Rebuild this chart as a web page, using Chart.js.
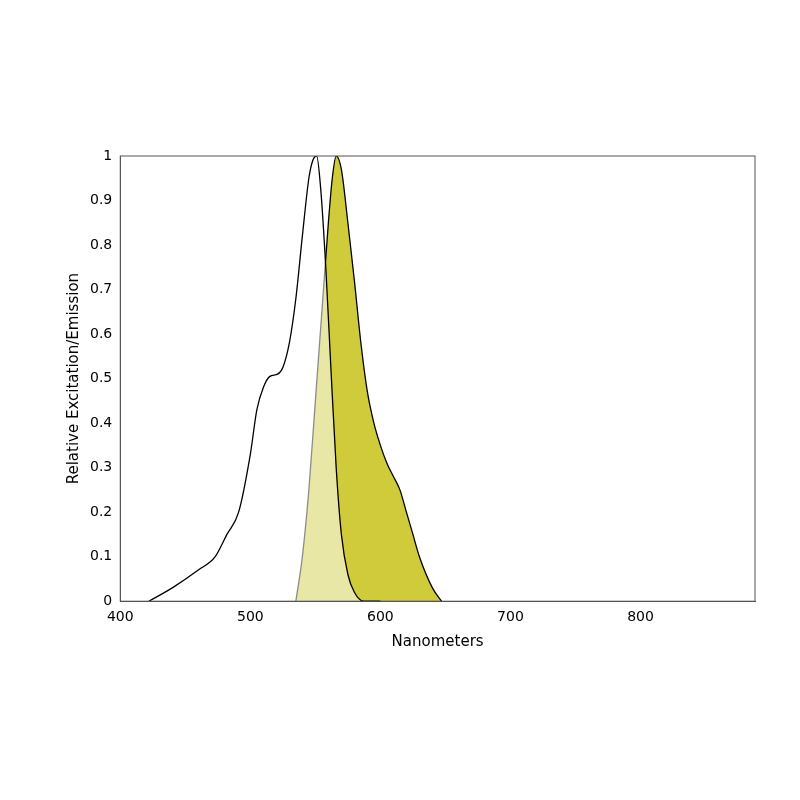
<!DOCTYPE html>
<html><head><meta charset="utf-8">
<script src="https://cdn.jsdelivr.net/npm/chart.js@4/dist/chart.umd.min.js"></script>
<style>html,body{margin:0;background:#fff}#w{width:800px;height:800px}</style>
</head><body><div id="w"><canvas id="c"></canvas></div>
<script>
const exX=[422,440,460,473,482,491,500,505,510,515,521,525,530,535,540,545,548,551,554,558,562,566,570,575,580,587,600];
const exY=[0,0.03,0.07,0.1,0.15,0.2,0.33,0.43,0.48,0.505,0.51,0.525,0.58,0.68,0.82,0.95,0.99,1.0,0.93,0.75,0.52,0.3,0.15,0.06,0.02,0,0];
const emX=[535,540,545,550,555,560,563,566,570,575,580,585,590,595,600,605,610,615,620,625,630,640,647];
const emY=[0,0.1,0.25,0.45,0.65,0.85,0.95,1.0,0.97,0.85,0.72,0.58,0.47,0.4,0.35,0.31,0.28,0.25,0.2,0.15,0.1,0.03,0];
const xTicks=[400,500,600,700,800];
const yTicks=[0,0.1,0.2,0.3,0.4,0.5,0.6,0.7,0.8,0.9,1];
const pts=(xs,ys)=>xs.map((x,i)=>({x,y:ys[i]}));
new Chart(document.getElementById('c'),{type:'scatter',
data:{datasets:[
{data:pts(emX,emY),showLine:true,fill:'origin',backgroundColor:'#cfcb3a',borderColor:'#000',borderWidth:1.3,pointRadius:0,cubicInterpolationMode:'monotone',order:2},
{data:pts(exX,exY),showLine:true,fill:'origin',backgroundColor:'rgba(255,255,255,0.55)',borderColor:'#000',borderWidth:1.3,pointRadius:0,cubicInterpolationMode:'monotone',order:1}
]},
options:{responsive:true,maintainAspectRatio:false,animation:false,
layout:{padding:{left:61,right:45,top:156,bottom:145}},
plugins:{legend:{display:false},tooltip:{enabled:false}},
scales:{
x:{type:'linear',min:400,max:888,afterBuildTicks:a=>{a.ticks=xTicks.map(v=>({value:v}))},
grid:{display:false,drawTicks:true,tickLength:5},border:{color:'#555'},
ticks:{color:'#000',font:{family:'DejaVu Sans',size:14},autoSkip:false,maxRotation:0},
title:{display:true,text:'Nanometers',color:'#000',font:{family:'DejaVu Sans',size:15}}},
y:{min:0,max:1,afterBuildTicks:a=>{a.ticks=yTicks.map(v=>({value:v}))},
grid:{display:false,tickLength:5},border:{color:'#555'},
ticks:{color:'#000',font:{family:'DejaVu Sans',size:14},autoSkip:false,callback:v=>String(Math.round(v*10)/10)},
title:{display:true,text:'Relative Excitation/Emission',color:'#000',font:{family:'DejaVu Sans',size:15}}}
}},
plugins:[{id:'box',afterDraw(ch){const a=ch.chartArea,c=ch.ctx;c.save();c.strokeStyle='#555';c.lineWidth=1;c.strokeRect(a.left,a.top,a.right-a.left,a.bottom-a.top);c.restore();}}]
});
</script></body></html>
